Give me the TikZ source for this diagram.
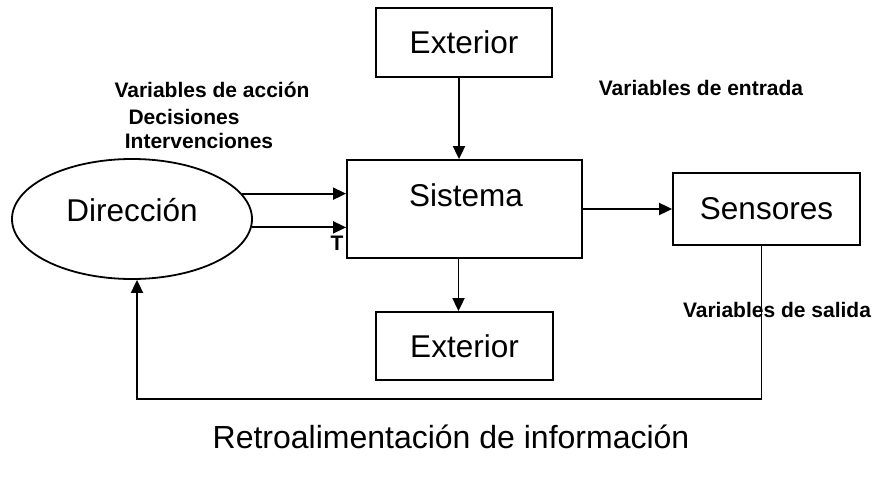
\documentclass[tikz,border=0pt]{standalone}
\usepackage{fontspec}
\setmainfont{Liberation Sans}
\usetikzlibrary{arrows.meta,shapes.geometric}
\begin{document}
\begin{tikzpicture}[x=1pt,y=-1pt]
\tikzstyle{box}=[draw,line width=1.8pt,rectangle,font=\fontsize{31.5}{36}\selectfont]
\tikzstyle{big}=[font=\fontsize{31.5}{36}\selectfont]
\tikzstyle{lbl}=[font=\fontsize{21}{24}\selectfont\bfseries]
\tikzstyle{arr}=[line width=1.8pt,-{Triangle[length=13pt,width=12pt]}]
\useasboundingbox (0,0) rectangle (872,479);
\node[box,minimum width=176pt,minimum height=69pt] at (464,42.5) (extA) {Exterior};
\node[box,minimum width=235pt,minimum height=98pt] at (464.5,209) (sis) {};
\node[big] at (466,195) (sisl) {Sistema};
\node[box,minimum width=187pt,minimum height=72pt] at (766.5,209) (sens) {Sensores};
\node[box,minimum width=177pt,minimum height=68pt] at (464.5,346) (extB) {Exterior};
\node[draw,ellipse,line width=1.8pt,big,text depth=18pt,minimum width=240pt,minimum height=120pt,inner sep=0pt] at (132,219) (dir) {Direcci\'on};
\node[lbl] at (212,90) (acc) {Variables de acci\'on};
\node[lbl] at (184,117) (dec) {Decisiones};
\node[lbl] at (199,141) (inter) {Intervenciones};
\node[lbl] at (701,88) (ent) {Variables de entrada};
\node[lbl] at (777,310) (sal) {Variables de salida};
\node[lbl] at (337,243) (t) {T};
\node[big,font=\fontsize{32}{36}\selectfont] at (451,437) (retro) {Retroalimentaci\'on de informaci\'on};
\draw[arr] ([xshift=-5pt]extA.south) -- ([xshift=-5pt]extA.south |- sis.north);
\draw[arr] ([xshift=-6pt]sis.south) -- ([xshift=-6pt]sis.south |- extB.north);
\draw[arr] (sis.east) -- (sens.west);
\draw[arr] (dir.13.5) -- (dir.13.5 -| sis.west);
\draw[arr] (dir.-4.8) -- (dir.-4.8 -| sis.west);
\coordinate (fb) at (137,399);
\draw[arr] ([xshift=-5pt]sens.south) |- (fb) -- ([xshift=5pt]dir.south);
\end{tikzpicture}
\end{document}
